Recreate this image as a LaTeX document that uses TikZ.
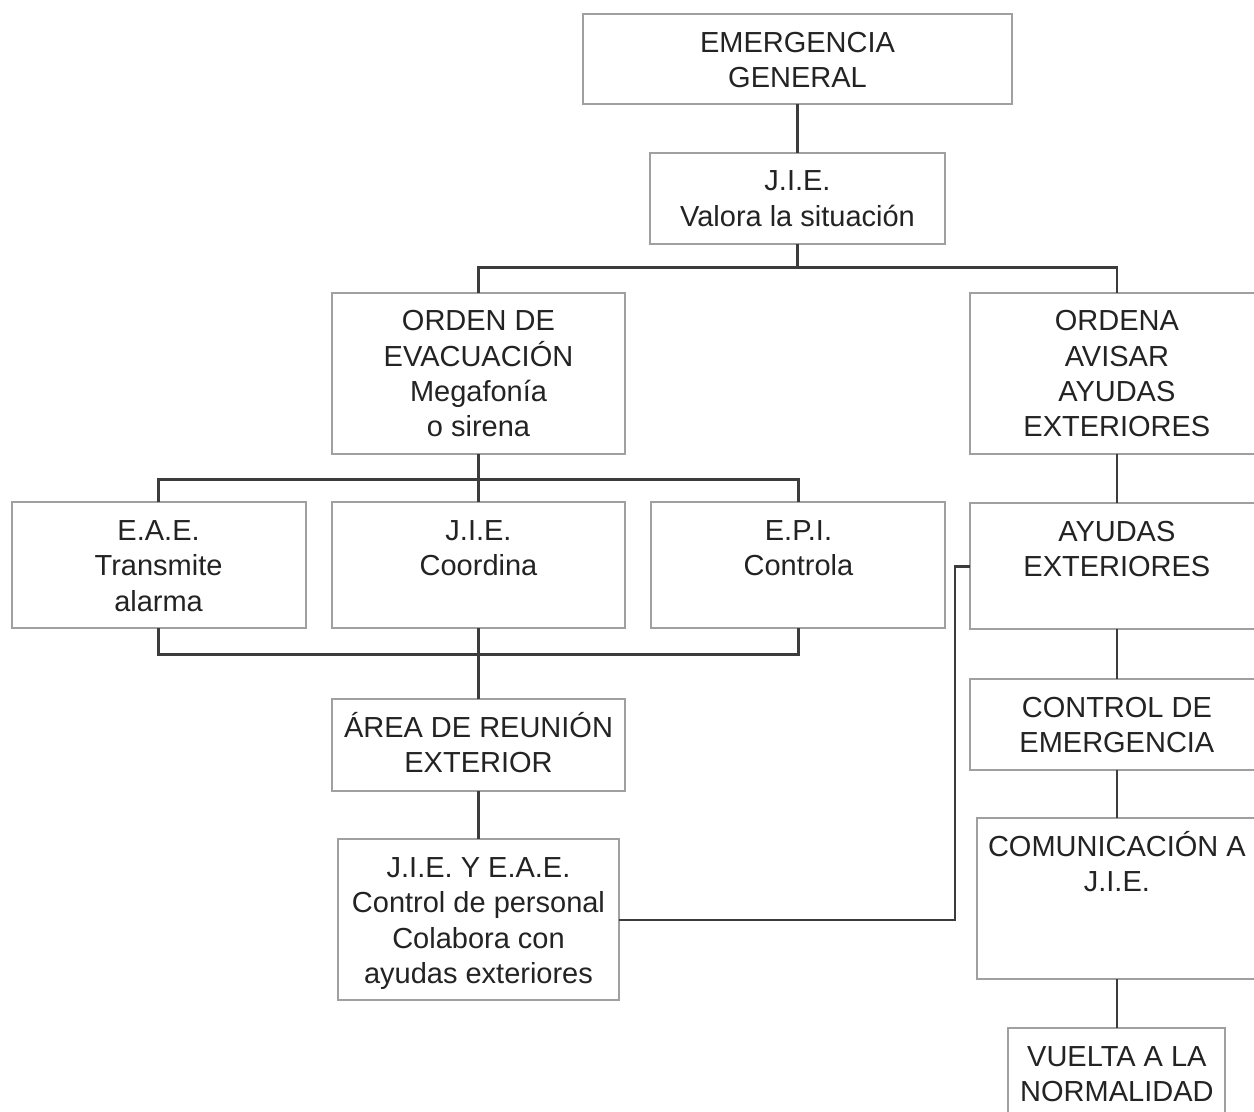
\documentclass[tikz,border=0pt]{standalone}
\usepackage{fontspec}
\setmainfont{Liberation Sans}
\usetikzlibrary{positioning}
\definecolor{boxgray}{RGB}{160,160,160}
\definecolor{linegray}{RGB}{60,60,60}
\definecolor{textgray}{RGB}{35,35,35}
\newcommand{\boxtext}[3]{\parbox[t][#2][t]{#1}{\centering\rule{0pt}{0.76cm}#3}}
\tikzset{
  box/.style={draw=boxgray, line width=0.04cm, inner sep=0pt, outer sep=0pt,
    fill=white, text=textgray, font=\fontsize{16.5pt}{20.2pt}\selectfont},
  link/.style={draw=linegray, line width=0.05cm}
}

\begin{document}
\begin{tikzpicture}[x=0.02cm, y=-0.02cm]
  \useasboundingbox (0,0) rectangle (1254,1112);
  \clip (0,0) rectangle (1254,1112);

  \node[box] (emerg) at (797.5,59) {\boxtext{8.58cm}{1.8cm}{EMERGENCIA\\GENERAL}};
  \node[box, below=0.98cm of emerg] (valora) {\boxtext{5.92cm}{1.82cm}{J.I.E.\\Valora la situación}};

  \node[box] (orden) at (478.5,373.5) {\boxtext{5.86cm}{3.24cm}{ORDEN DE\\EVACUACIÓN\\Megafonía\\o sirena}};
  \node[box, right=6.9cm of orden] (avisar) {\boxtext{5.88cm}{3.24cm}{ORDENA\\AVISAR\\AYUDAS\\EXTERIORES}};

  \node[box, below=0.96cm of orden] (coord) {\boxtext{5.88cm}{2.52cm}{J.I.E.\\Coordina}};
  \node[box, left=0.52cm of coord] (eae) {\boxtext{5.88cm}{2.52cm}{E.A.E.\\Transmite\\alarma}};
  \node[box, right=0.52cm of coord] (epi) {\boxtext{5.88cm}{2.52cm}{E.P.I.\\Controla}};
  \node[box, below=0.98cm of avisar] (ayudas) {\boxtext{5.88cm}{2.52cm}{AYUDAS\\EXTERIORES}};

  \node[box, below=1.42cm of coord] (area) {\boxtext{5.86cm}{1.84cm}{ÁREA DE REUNIÓN\\EXTERIOR}};
  \node[box, below=0.96cm of area] (personal) {\boxtext{5.62cm}{3.22cm}{J.I.E. Y E.A.E.\\Control de personal\\Colabora con\\ayudas exteriores}};

  \node[box, below=1.0cm of ayudas] (control) {\boxtext{5.88cm}{1.82cm}{CONTROL DE\\EMERGENCIA}};
  \node[box, below=0.96cm of control] (comunic) {\boxtext{5.6cm}{3.22cm}{COMUNICACIÓN A\\J.I.E.}};
  \node[box, below=0.98cm of comunic] (vuelta) {\boxtext{4.34cm}{1.84cm}{VUELTA A LA\\NORMALIDAD}};

  \draw[link] (emerg) -- (valora);
  \draw[link] (valora.south) -- ++(0,23);
  \draw[link] (orden.north) -- ++(0,-25) -| (avisar.north);

  \draw[link] (orden) -- (coord);
  \draw[link] (eae.north) -- ++(0,-23) -| (epi.north);
  \draw[link] (eae.south) -- ++(0,26) -| (epi.south);
  \draw[link] (coord) -- (area);
  \draw[link] (area) -- (personal);
  \draw[link] (personal.east) -- ++(336,0) |- (ayudas.west);

  \draw[link] (avisar) -- (ayudas);
  \draw[link] (ayudas) -- (control);
  \draw[link] (control) -- (comunic);
  \draw[link] (comunic) -- (vuelta);
\end{tikzpicture}
\end{document}
